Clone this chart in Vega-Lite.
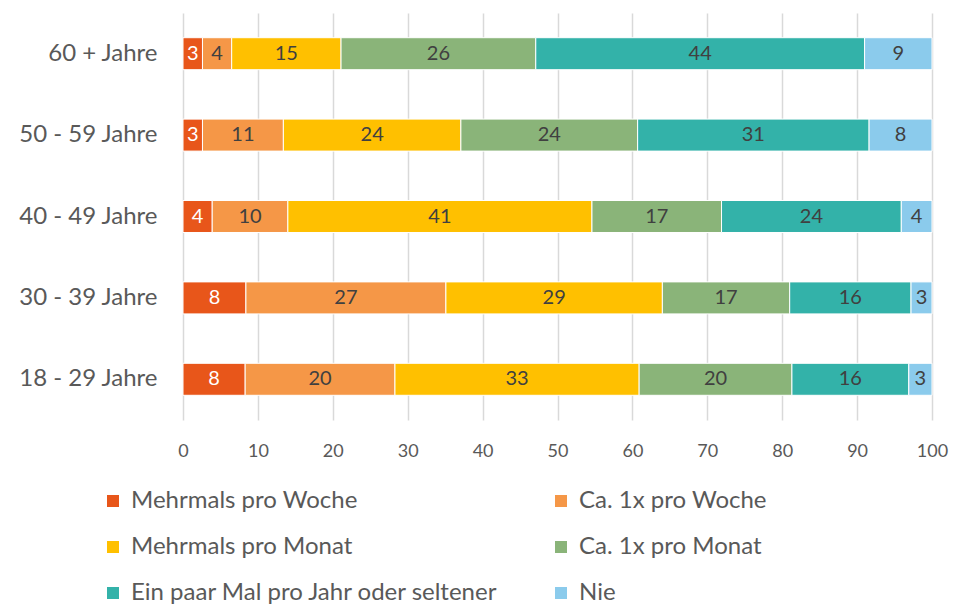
{
  "$schema": "https://vega.github.io/schema/vega-lite/v6.json",
  "width": 749,
  "height": 407,
  "autosize": {"type": "none"},
  "padding": {"left": 183, "top": 13, "right": 32, "bottom": 185},
  "config": {"font": "Lato", "view": {"stroke": null}},
  "data": {"values": [
    {"age": "60 + Jahre", "cat": "Mehrmals pro Woche", "k": 1, "value": 2.6},
    {"age": "60 + Jahre", "cat": "Ca. 1x pro Woche", "k": 2, "value": 3.9},
    {"age": "60 + Jahre", "cat": "Mehrmals pro Monat", "k": 3, "value": 14.6},
    {"age": "60 + Jahre", "cat": "Ca. 1x pro Monat", "k": 4, "value": 26.0},
    {"age": "60 + Jahre", "cat": "Ein paar Mal pro Jahr oder seltener", "k": 5, "value": 43.9},
    {"age": "60 + Jahre", "cat": "Nie", "k": 6, "value": 9.0},
    {"age": "50 - 59 Jahre", "cat": "Mehrmals pro Woche", "k": 1, "value": 2.6},
    {"age": "50 - 59 Jahre", "cat": "Ca. 1x pro Woche", "k": 2, "value": 10.8},
    {"age": "50 - 59 Jahre", "cat": "Mehrmals pro Monat", "k": 3, "value": 23.7},
    {"age": "50 - 59 Jahre", "cat": "Ca. 1x pro Monat", "k": 4, "value": 23.6},
    {"age": "50 - 59 Jahre", "cat": "Ein paar Mal pro Jahr oder seltener", "k": 5, "value": 30.9},
    {"age": "50 - 59 Jahre", "cat": "Nie", "k": 6, "value": 8.4},
    {"age": "40 - 49 Jahre", "cat": "Mehrmals pro Woche", "k": 1, "value": 3.9},
    {"age": "40 - 49 Jahre", "cat": "Ca. 1x pro Woche", "k": 2, "value": 10.1},
    {"age": "40 - 49 Jahre", "cat": "Mehrmals pro Monat", "k": 3, "value": 40.6},
    {"age": "40 - 49 Jahre", "cat": "Ca. 1x pro Monat", "k": 4, "value": 17.3},
    {"age": "40 - 49 Jahre", "cat": "Ein paar Mal pro Jahr oder seltener", "k": 5, "value": 24.0},
    {"age": "40 - 49 Jahre", "cat": "Nie", "k": 6, "value": 4.1},
    {"age": "30 - 39 Jahre", "cat": "Mehrmals pro Woche", "k": 1, "value": 8.4},
    {"age": "30 - 39 Jahre", "cat": "Ca. 1x pro Woche", "k": 2, "value": 26.7},
    {"age": "30 - 39 Jahre", "cat": "Mehrmals pro Monat", "k": 3, "value": 28.9},
    {"age": "30 - 39 Jahre", "cat": "Ca. 1x pro Monat", "k": 4, "value": 17.0},
    {"age": "30 - 39 Jahre", "cat": "Ein paar Mal pro Jahr oder seltener", "k": 5, "value": 16.2},
    {"age": "30 - 39 Jahre", "cat": "Nie", "k": 6, "value": 2.8},
    {"age": "18 - 29 Jahre", "cat": "Mehrmals pro Woche", "k": 1, "value": 8.3},
    {"age": "18 - 29 Jahre", "cat": "Ca. 1x pro Woche", "k": 2, "value": 20.0},
    {"age": "18 - 29 Jahre", "cat": "Mehrmals pro Monat", "k": 3, "value": 32.6},
    {"age": "18 - 29 Jahre", "cat": "Ca. 1x pro Monat", "k": 4, "value": 20.4},
    {"age": "18 - 29 Jahre", "cat": "Ein paar Mal pro Jahr oder seltener", "k": 5, "value": 15.6},
    {"age": "18 - 29 Jahre", "cat": "Nie", "k": 6, "value": 3.1}
  ]},
  "transform": [
    {"stack": "value", "groupby": ["age"], "sort": [{"field": "k", "order": "ascending"}], "as": ["x0", "x1"]},
    {"calculate": "(datum.x0 + datum.x1) / 2", "as": "mid"}
  ],
  "encoding": {
    "y": {
      "field": "age", "type": "nominal",
      "sort": ["60 + Jahre", "50 - 59 Jahre", "40 - 49 Jahre", "30 - 39 Jahre", "18 - 29 Jahre"],
      "scale": {"paddingInner": 0.607, "paddingOuter": 0.3035},
      "axis": {"title": null, "domain": false, "ticks": false, "grid": false, "labelFontSize": 24, "labelColor": "#595959", "labelPadding": 26, "labelFont": "Lato"}
    }
  },
  "layer": [
    {
      "mark": {"type": "bar", "stroke": "white", "strokeWidth": 1},
      "encoding": {
        "x": {
          "field": "x0", "type": "quantitative",
          "scale": {"domain": [0, 100], "nice": false},
          "axis": {"title": null, "domain": false, "ticks": false, "grid": true, "gridColor": "#D9D9D9", "gridWidth": 1.5, "values": [0,10,20,30,40,50,60,70,80,90,100], "labelFontSize": 18, "labelColor": "#595959", "labelPadding": 22, "labelFlush": false}
        },
        "x2": {"field": "x1"},
        "color": {
          "field": "cat", "type": "nominal",
          "scale": {
            "domain": ["Mehrmals pro Woche", "Ca. 1x pro Woche", "Mehrmals pro Monat", "Ca. 1x pro Monat", "Ein paar Mal pro Jahr oder seltener", "Nie"],
            "range": ["#E8561A", "#F59747", "#FFC000", "#8AB479", "#33B2A9", "#8BCBEC"]
          },
          "legend": {
            "title": null, "orient": "none", "legendX": -82, "legendY": 476,
            "direction": "horizontal",
            "columns": 2, "columnPadding": 50, "rowPadding": 22,
            "symbolType": "square", "symbolSize": 144, "symbolStrokeWidth": 0,
            "labelFontSize": 24, "labelColor": "#595959", "labelOffset": 6, "labelLimit": 600, "padding": 0
          }
        }
      }
    },
    {
      "mark": {"type": "text", "fontSize": 20, "baseline": "middle", "align": "center"},
      "encoding": {
        "x": {"field": "mid", "type": "quantitative"},
        "text": {"field": "value", "type": "quantitative", "format": ".0f"},
        "color": {"condition": {"test": "datum.k === 1", "value": "#FFFFFF"}, "value": "#404040"}
      }
    }
  ]
}
